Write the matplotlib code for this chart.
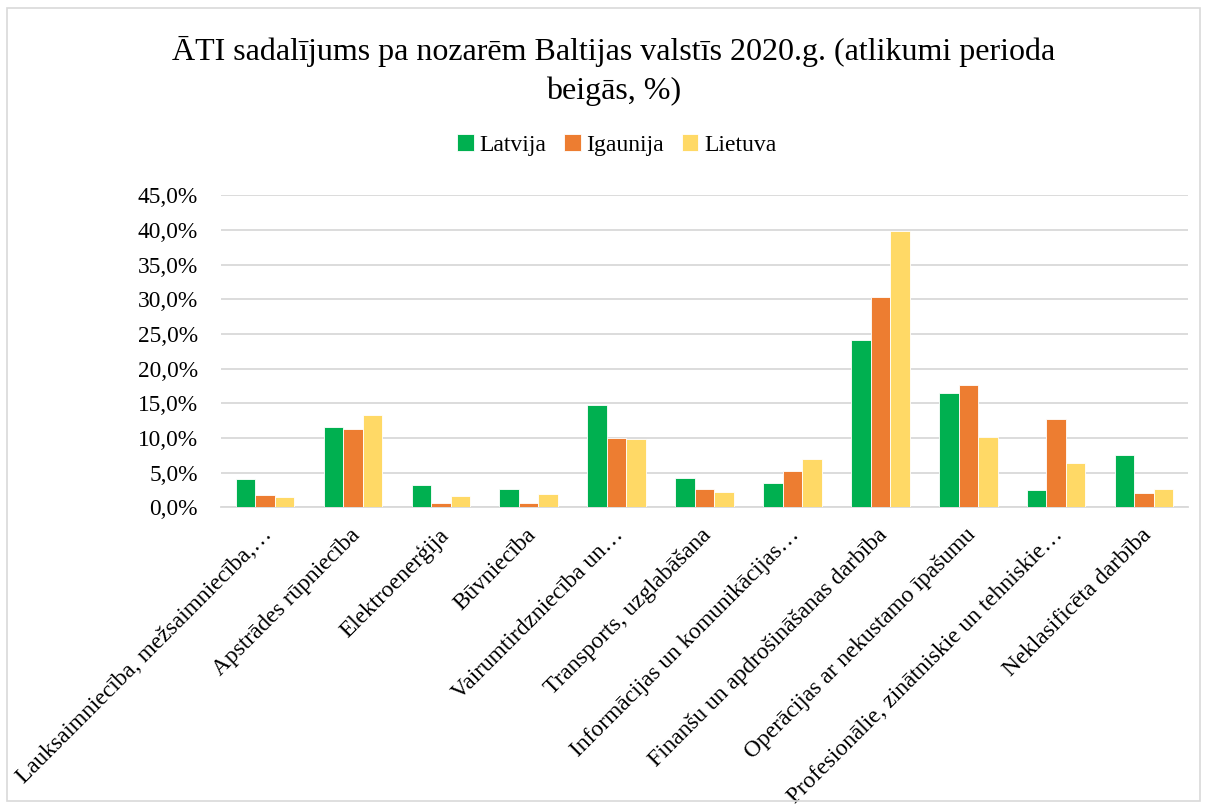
import numpy as np
import matplotlib
matplotlib.use("Agg")
from matplotlib import pyplot as plt
from matplotlib.ticker import FuncFormatter
from matplotlib.patches import Rectangle

plt.rcParams['font.family'] = ['Liberation Serif', 'DejaVu Serif']

categories = [
    "Lauksaimniecība, mežsaimniecība,…",
    "Apstrādes rūpniecība",
    "Elektroenerģija",
    "Būvniecība",
    "Vairumtirdzniecība un…",
    "Transports, uzglabāšana",
    "Informācijas un komunikācijas…",
    "Finanšu un apdrošināšanas darbība",
    "Operācijas ar nekustamo īpašumu",
    "Profesionālie, zinātniskie un tehniskie…",
    "Neklasificēta darbība",
]
latvija = [4.1, 11.6, 3.3, 2.6, 14.8, 4.3, 3.6, 24.2, 16.5, 2.5, 7.5]
igaunija = [1.8, 11.3, 0.6, 0.7, 10.0, 2.6, 5.3, 30.4, 17.6, 12.8, 2.1]
lietuva = [1.5, 13.4, 1.7, 1.9, 9.9, 2.2, 7.0, 39.8, 10.2, 6.4, 2.6]
series = [("Latvija", latvija, "#00B050"),
          ("Igaunija", igaunija, "#ED7D31"),
          ("Lietuva", lietuva, "#FFD966")]

fs = 16.8
mydpi = 100
fig = plt.figure(figsize=(1207/mydpi, 809/mydpi), dpi=mydpi)
ax = fig.add_axes([0.1831, 0.3727, 0.8012, 0.3859])

x = np.arange(len(categories))
w = 0.222
for k, (name, vals, col) in enumerate(series):
    ax.bar(x + (k-1)*w, np.array(vals)/100, w, color=col, label=name,
           edgecolor="white", linewidth=0.6, zorder=3)

ax.set_xlim(-0.5, len(categories)-0.5)
ax.set_ylim(0, 0.45)
ax.set_yticks(np.arange(0, 0.451, 0.05))
ax.yaxis.set_major_formatter(FuncFormatter(lambda v, p: "{:.1f}%".format(v*100).replace(".", ",")))
ax.tick_params(axis="y", length=0, labelsize=fs, pad=16.5)
ax.set_xticks([])
ax.grid(True, axis="y", color="#D9D9D9", linewidth=1.3, zorder=0)
for s in ["top", "right", "left"]:
    ax.spines[s].set_visible(False)
ax.spines["bottom"].set_color("#D9D9D9")
ax.spines["bottom"].set_linewidth(1.3)

# rotated category labels, end of text near the category centre
for i, lab in enumerate(categories):
    ax.text(i - 0.04, -0.054, lab, transform=ax.get_xaxis_transform(),
            rotation=45, ha="right", va="top", rotation_mode="anchor", fontsize=fs)

fig.text(0.508, 0.956, "ĀTI sadalījums pa nozarēm Baltijas valstīs 2020.g. (atlikumi perioda\nbeigās, %)",
         ha="center", va="top", fontsize=23, linespacing=1.42)

fig.legend(loc="center", bbox_to_anchor=(0.511, 0.821), ncol=3, frameon=False, fontsize=17,
           handlelength=0.7, handleheight=0.7, handletextpad=0.25, columnspacing=0.75)

fig.patches.append(Rectangle((0.006, 0.01), 0.988, 0.98, transform=fig.transFigure,
                             fill=False, edgecolor="#D9D9D9", linewidth=1.2))

plt.savefig("out.png", dpi=mydpi)
